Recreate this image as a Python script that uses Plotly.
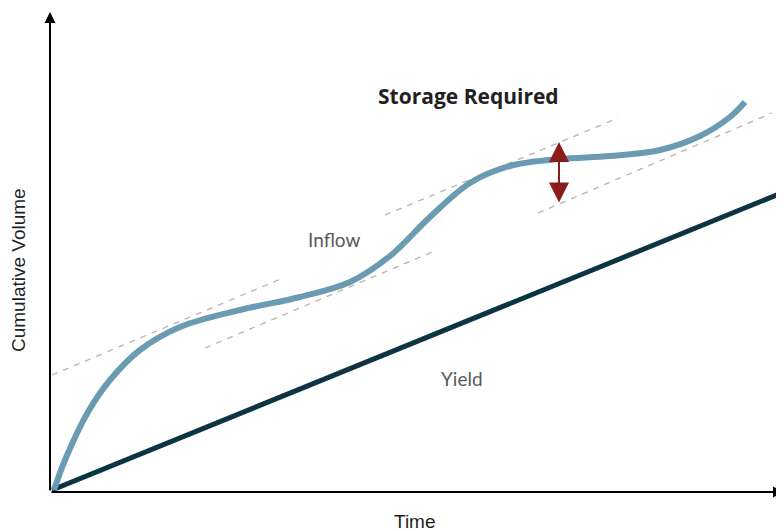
import plotly.graph_objects as go

# ---- data (time units, volume units) ----
inflow_time = [4, 15, 38, 60, 90, 130, 190, 250, 300, 340, 380, 420, 460, 510, 560, 610, 650, 680, 695]
inflow_volume = [2, 32, 80, 112, 142, 165, 182, 195, 210, 236, 275, 309, 326, 333, 336, 342, 356, 375, 390]

yield_time = [2, 734]
yield_volume = [2, 300]

# tangent lines parallel to the yield line (start/end time, start/end volume)
tangent_time = [[2, 233], [155, 387], [335, 568], [488, 722]]
tangent_volume = [[117, 214], [144, 242], [277, 374], [279, 379]]

storage_time = 509
storage_top = 350
storage_bottom = 288

x_max = 734
y_max = 480

INFLOW_COLOR = "#6b9bb2"
YIELD_COLOR = "#0d3442"
DASH_COLOR = "#bab2b2"
RED = "#8b1c1c"

fig = go.Figure()

for tx, ty in zip(tangent_time, tangent_volume):
    fig.add_trace(go.Scatter(x=tx, y=ty, mode="lines",
                             line=dict(color=DASH_COLOR, width=1.3, dash="6px,6px"),
                             hoverinfo="skip", showlegend=False))

fig.add_trace(go.Scatter(x=yield_time, y=yield_volume, mode="lines",
                         line=dict(color=YIELD_COLOR, width=5),
                         showlegend=False, name="Yield"))

fig.add_trace(go.Scatter(x=inflow_time, y=inflow_volume, mode="lines",
                         line=dict(color=INFLOW_COLOR, width=6, shape="spline", smoothing=1.0),
                         showlegend=False, name="Inflow"))

annotations = [
    # axes with arrowheads
    dict(x=0, y=y_max, ax=0, ay=0, xref="x", yref="y", axref="x", ayref="y",
         showarrow=True, arrowhead=2, arrowsize=1.1, arrowwidth=2, arrowcolor="black", text=""),
    dict(x=x_max, y=0, ax=0, ay=0, xref="x", yref="y", axref="x", ayref="y",
         showarrow=True, arrowhead=2, arrowsize=1.1, arrowwidth=2, arrowcolor="black", text=""),
    # storage double arrow
    dict(x=storage_time, y=storage_top, ax=storage_time, ay=storage_bottom,
         xref="x", yref="y", axref="x", ayref="y",
         showarrow=True, arrowhead=2, startarrowhead=2, arrowside="end+start",
         arrowsize=2, startarrowsize=2, arrowwidth=2, arrowcolor=RED, text=""),
    # labels
    dict(x=418, y=396, xref="x", yref="y", text="<b>Storage Required</b>", showarrow=False,
         font=dict(family="Open Sans", size=21, color="#231f20")),
    dict(x=284, y=253, xref="x", yref="y", text="Inflow", showarrow=False,
         font=dict(family="Lato", size=19, color="#58585a")),
    dict(x=412, y=114, xref="x", yref="y", text="Yield", showarrow=False,
         font=dict(family="Lato", size=19, color="#58585a")),
    dict(x=365, y=0, xref="x", yref="paper", yanchor="top", yshift=-17, text="Time",
         showarrow=False, font=dict(family="Liberation Sans", size=19, color="#231f20")),
    dict(x=0, y=222, xref="paper", yref="y", xanchor="center", xshift=-32,
         text="Cumulative Volume", textangle=-90, showarrow=False,
         font=dict(family="Liberation Sans", size=19, color="#231f20")),
]

# page body has an 8px margin; size the figure so the plot lands where the reference has it
fig.update_layout(
    width=776, height=523,
    margin=dict(l=42, r=0, t=4, b=39),
    paper_bgcolor="white", plot_bgcolor="white",
    xaxis=dict(range=[0, x_max], visible=False, fixedrange=True),
    yaxis=dict(range=[0, y_max], visible=False, fixedrange=True),
    annotations=annotations,
    showlegend=False,
)

fig.write_html("out.html")
